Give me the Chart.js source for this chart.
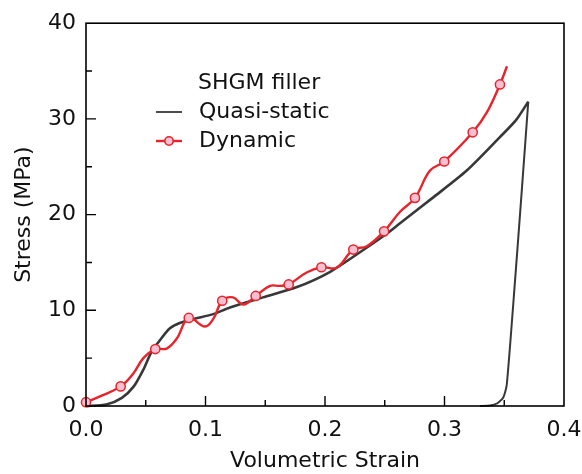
<!DOCTYPE html>
<html>
<head>
<meta charset="utf-8">
<script src="https://cdn.jsdelivr.net/npm/chart.js@4/dist/chart.umd.min.js"></script>
<style>
  html, body { margin: 0; padding: 0; background: #fff; }
  #wrap { width: 582px; height: 474px; }
</style>
</head>
<body>
<div id="wrap"><canvas id="chart"></canvas></div>
<script>
// quasi-static curve, loading part
const loadX = [0, 0.017, 0.030, 0.040, 0.048, 0.055, 0.062, 0.070, 0.079, 0.090, 0.1065, 0.1205, 0.148, 0.176, 0.204, 0.232, 0.2516, 0.2628, 0.2906, 0.3186, 0.3464, 0.3600, 0.3701]
const loadY = [0, 0.15, 0.85, 2.05, 3.8, 5.7, 6.9, 8.1, 8.7, 9.1, 9.6, 10.3, 11.35, 12.4, 14.0, 16.3, 18.0, 19.1, 21.8, 24.6, 28.1, 29.9, 31.8]
// quasi-static unloading part
const unloadX = [0.3701, 0.3649, 0.3587, 0.3521, 0.3492, 0.3439, 0.3381, 0.3297]
const unloadY = [31.8, 22.9, 12.56, 2.22, 0.88, 0.26, 0.05, 0]

// dynamic curve
const dynamicX = [0, 0.0117, 0.029, 0.0396, 0.048, 0.058, 0.0675, 0.076, 0.086, 0.0996, 0.1065, 0.114, 0.123, 0.1317, 0.142, 0.154, 0.162, 0.1696, 0.1846, 0.197, 0.2097, 0.2237, 0.235, 0.2494, 0.2628, 0.2753, 0.2879, 0.2998, 0.3236, 0.3353, 0.3464, 0.3523]
const dynamicY = [0.4, 1.0, 2.05, 3.4, 5.0, 5.95, 6.0, 7.05, 9.2, 8.3, 9.1, 11.0, 11.35, 10.6, 11.5, 12.55, 12.55, 12.7, 13.95, 14.5, 14.45, 16.35, 16.7, 18.25, 20.3, 21.75, 24.6, 25.55, 28.6, 30.65, 33.6, 35.5]

// open-circle markers on the dynamic curve
const markerX = [0, 0.029, 0.058, 0.086, 0.114, 0.142, 0.1696, 0.197, 0.2237, 0.2494, 0.2753, 0.2998, 0.3236, 0.3464]
const markerY = [0.4, 2.05, 5.95, 9.2, 11.0, 11.5, 12.7, 14.5, 16.35, 18.25, 21.75, 25.55, 28.6, 33.6]

const xTicks = [0, 0.1, 0.2, 0.3, 0.4]
const yTicks = [0, 10, 20, 30, 40]
const xMinor = [0.05, 0.15, 0.25, 0.35]
const yMinor = [5, 15, 25, 35]

const legendTitle = 'SHGM filler'
const seriesNames = ['Quasi-static', 'Dynamic']

const RED = '#e8232b'
const PINK = '#f8bfd0'
const GRAY = '#383838'
const FONT = 'DejaVu Sans'

const toPoints = (xs, ys) => xs.map((x, i) => ({ x: x, y: ys[i] }))

// box round the plot plus inward ticks on the bottom and left
const framePlugin = {
  id: 'frame',
  afterDraw(chart) {
    const { ctx, chartArea: a, scales } = chart
    ctx.save()
    ctx.strokeStyle = '#000'
    ctx.lineWidth = 1.6
    ctx.strokeRect(a.left, a.top, a.right - a.left, a.bottom - a.top)
    ctx.lineWidth = 1.4
    ctx.beginPath()
    const xt = (v, len) => {
      const px = scales.x.getPixelForValue(v)
      ctx.moveTo(px, a.bottom); ctx.lineTo(px, a.bottom - len)
    }
    const yt = (v, len) => {
      const py = scales.y.getPixelForValue(v)
      ctx.moveTo(a.left, py); ctx.lineTo(a.left + len, py)
    }
    xTicks.slice(1, -1).forEach(v => xt(v, 10))
    xMinor.forEach(v => xt(v, 6))
    yTicks.slice(1, -1).forEach(v => yt(v, 10))
    yMinor.forEach(v => yt(v, 6))
    ctx.stroke()
    ctx.restore()
  }
}

// legend inside the plot
const legendPlugin = {
  id: 'innerLegend',
  afterDraw(chart) {
    const { ctx } = chart
    ctx.save()
    ctx.font = '22px "' + FONT + '"'
    ctx.fillStyle = '#111'
    ctx.textBaseline = 'middle'
    ctx.fillText(legendTitle, 198, 83)
    ctx.fillText(seriesNames[0], 199, 112)
    ctx.fillText(seriesNames[1], 199, 141)

    ctx.strokeStyle = GRAY
    ctx.lineWidth = 1.8
    ctx.beginPath(); ctx.moveTo(156, 112); ctx.lineTo(182, 112); ctx.stroke()

    ctx.strokeStyle = RED
    ctx.lineWidth = 2.4
    ctx.beginPath(); ctx.moveTo(156, 141); ctx.lineTo(182, 141); ctx.stroke()
    ctx.fillStyle = PINK
    ctx.lineWidth = 1.6
    ctx.beginPath(); ctx.arc(169, 141, 4.2, 0, Math.PI * 2); ctx.fill(); ctx.stroke()
    ctx.restore()
  }
}

new Chart(document.getElementById('chart'), {
  type: 'scatter',
  data: {
    datasets: [
      {
        label: seriesNames[0],
        data: toPoints(loadX, loadY),
        showLine: true,
        borderColor: GRAY,
        borderWidth: 2.6,
        pointRadius: 0,
        tension: 0.25,
        clip: false,
        order: 4
      },
      {
        label: seriesNames[0] + ' unloading',
        data: toPoints(unloadX, unloadY),
        showLine: true,
        borderColor: GRAY,
        borderWidth: 2,
        pointRadius: 0,
        tension: 0.2,
        clip: false,
        order: 3
      },
      {
        label: seriesNames[1],
        data: toPoints(dynamicX, dynamicY),
        showLine: true,
        borderColor: RED,
        borderWidth: 2.4,
        pointRadius: 0,
        tension: 0.4,
        clip: false,
        order: 2
      },
      {
        label: 'markers',
        data: toPoints(markerX, markerY),
        showLine: false,
        pointRadius: 4.6,
        pointBorderWidth: 1.5,
        pointBackgroundColor: PINK,
        pointBorderColor: RED,
        clip: false,
        order: 1
      }
    ]
  },
  options: {
    responsive: true,
    maintainAspectRatio: false,
    animation: false,
    layout: { padding: { top: 20, right: 18, left: 0, bottom: 0 } },
    plugins: {
      legend: { display: false },
      tooltip: { enabled: false }
    },
    scales: {
      x: {
        type: 'linear',
        min: 0,
        max: 0.4,
        afterFit: (s) => { s.height = 68; s.paddingRight = 0; s.paddingLeft = 0 },
        afterBuildTicks: (s) => { s.ticks = xTicks.map(v => ({ value: v })) },
        grid: { display: false, drawTicks: false },
        border: { display: false },
        ticks: {
          color: '#111',
          padding: 11,
          maxRotation: 0,
          font: { family: FONT, size: 22 },
          callback: (v) => v.toFixed(1)
        },
        title: {
          display: true,
          text: 'Volumetric Strain',
          color: '#111',
          font: { family: FONT, size: 22 },
          padding: { top: 0, bottom: 0 }
        }
      },
      y: {
        type: 'linear',
        min: 0,
        max: 40,
        afterFit: (s) => { s.width = 86 },
        afterBuildTicks: (s) => { s.ticks = yTicks.map(v => ({ value: v })) },
        grid: { display: false, drawTicks: false },
        border: { display: false },
        ticks: {
          color: '#111',
          padding: 10,
          font: { family: FONT, size: 22 }
        },
        title: {
          display: true,
          text: 'Stress (MPa)',
          color: '#111',
          font: { family: FONT, size: 22 },
          padding: { top: 11, bottom: 0 }
        }
      }
    }
  },
  plugins: [framePlugin, legendPlugin]
})
</script>
</body>
</html>
